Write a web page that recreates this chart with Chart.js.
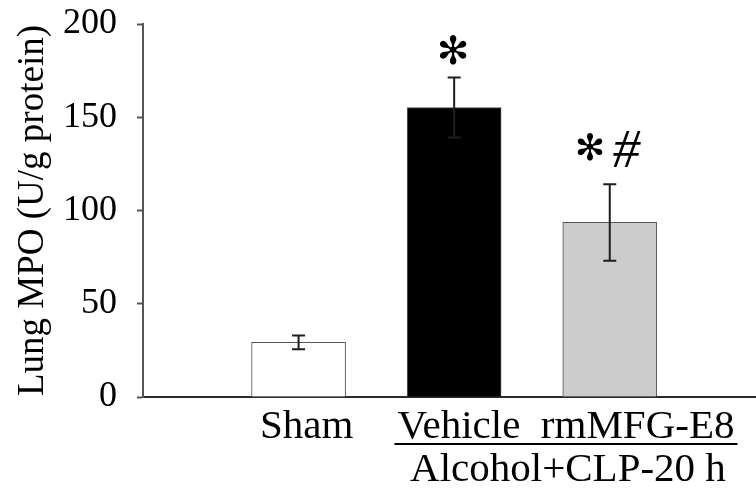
<!DOCTYPE html>
<html>
<head>
<meta charset="utf-8">
<script src="https://cdn.jsdelivr.net/npm/chart.js@4.4.1/dist/chart.umd.min.js"></script>
<style>
  html, body { margin: 0; padding: 0; background: #ffffff; }
  #wrap { position: relative; width: 756px; height: 489px; }
</style>
</head>
<body>
<div id="wrap"><canvas id="mpo"></canvas></div>
<script>
// Lung MPO activity per group (mean ± SEM, U/g protein)
const groups = ['Sham', 'Vehicle', 'rmMFG-E8'];
const mpo = [29.3, 155.2, 93.6];
const sem = [3.7, 16.1, 20.5];
const marks = [[], ['\u273B'], ['\u273B', '#']];
const fills = ['#ffffff', '#000000', '#cccccc'];
const yTicks = [0, 50, 100, 150, 200];
const treatment = 'Alcohol+CLP-20 h';

const SERIF = '"Liberation Serif", "Times New Roman", serif';
const STAR = '"DejaVu Sans", sans-serif';

// error bars, significance marks and the grouped category labels
const annotate = {
  id: 'annotate',
  afterDatasetsDraw(chart) {
    const { ctx, scales: { x, y } } = chart;
    const px = i => x.getPixelForValue(i + 1);
    ctx.save();

    ctx.strokeStyle = '#1e1e1e';
    ctx.lineWidth = 2;
    mpo.forEach((v, i) => {
      const cx = px(i);
      const top = y.getPixelForValue(v + sem[i]);
      const bot = y.getPixelForValue(v - sem[i]);
      ctx.beginPath();
      ctx.moveTo(cx, top); ctx.lineTo(cx, bot);
      ctx.moveTo(cx - 6.5, top); ctx.lineTo(cx + 6.5, top);
      ctx.moveTo(cx - 6.5, bot); ctx.lineTo(cx + 6.5, bot);
      ctx.stroke();
    });

    // significance marks: a glyph scaled to a given box height, centred at cx, resting on bottom
    ctx.fillStyle = '#000';
    ctx.textAlign = 'left';
    ctx.textBaseline = 'alphabetic';
    const glyph = (ch, style, family, height, cx, bottom) => {
      ctx.font = style + ' 100px ' + family;
      const r = ctx.measureText(ch);
      const size = 100 * height / (r.actualBoundingBoxAscent + r.actualBoundingBoxDescent);
      ctx.font = style + ' ' + size.toFixed(1) + 'px ' + family;
      const m = ctx.measureText(ch);
      const w = m.actualBoundingBoxLeft + m.actualBoundingBoxRight;
      ctx.fillText(ch, cx - w / 2 + m.actualBoundingBoxLeft, bottom - m.actualBoundingBoxDescent);
    };
    mpo.forEach((v, i) => {
      const m = marks[i];
      if (!m.length) return;
      const top = y.getPixelForValue(v + sem[i]);
      const cx = px(i);
      if (m.length === 1) {
        glyph(m[0], 'bold', STAR, 30, cx - 1, top - 13);
      } else {
        glyph(m[1], 'italic', SERIF, 36, cx + 17.5, top - 17.5);
        glyph(m[0], 'bold', STAR, 28, cx - 20, top - 23.5);
      }
    });

    // category labels under the axis
    ctx.font = '41px ' + SERIF;
    ctx.textAlign = 'center';
    const base1 = y.bottom + 41;
    ctx.fillText(groups[0], px(0) + 8, base1);
    const pair = groups[1] + '\u00a0\u00a0' + groups[2];
    const gc = (px(1) + px(2)) / 2 + 34;
    ctx.fillText(pair, gc, base1);
    const w = ctx.measureText(pair).width;
    ctx.fillRect(gc - w / 2 - 3, base1 + 5, w + 6, 2);
    ctx.fillText(treatment, gc + 2, base1 + 43);

    ctx.restore();
  }
};

new Chart(document.getElementById('mpo'), {
  type: 'bar',
  data: {
    datasets: [{
      data: mpo.map((v, i) => ({ x: i + 1, y: v })),
      backgroundColor: fills,
      borderColor: '#555555',
      borderWidth: 1,
      barThickness: 94
    }]
  },
  options: {
    responsive: true,
    maintainAspectRatio: false,
    animation: false,
    events: [],
    layout: { padding: { top: 24, left: 0, right: 0, bottom: 0 } },
    plugins: { legend: { display: false }, tooltip: { enabled: false } },
    scales: {
      x: {
        type: 'linear',
        offset: false,
        min: 0,
        max: 3.94,
        grid: { display: false, drawTicks: false },
        border: { display: true, color: '#2a2a2a', width: 2 },
        ticks: { display: false },
        afterFit: s => { s.height = 92; s.paddingLeft = 0; s.paddingRight = 0; }
      },
      y: {
        min: 0,
        max: 200,
        afterBuildTicks: s => { s.ticks = yTicks.map(v => ({ value: v })); },
        grid: { drawOnChartArea: false, drawTicks: true, tickLength: 6, color: '#555555', tickWidth: 2 },
        border: { display: true, color: '#555555', width: 2 },
        ticks: {
          color: '#000',
          padding: 20,
          font: { family: SERIF, size: 36 }
        },
        title: {
          display: true,
          text: 'Lung MPO (U/g protein)',
          color: '#000',
          font: { family: SERIF, size: 37, lineHeight: 1 },
          padding: { top: 15, bottom: 0 }
        },
        afterFit: s => { s.width = 143; s.paddingTop = 0; s.paddingBottom = 0; }
      }
    }
  },
  plugins: [annotate]
});
</script>
</body>
</html>
